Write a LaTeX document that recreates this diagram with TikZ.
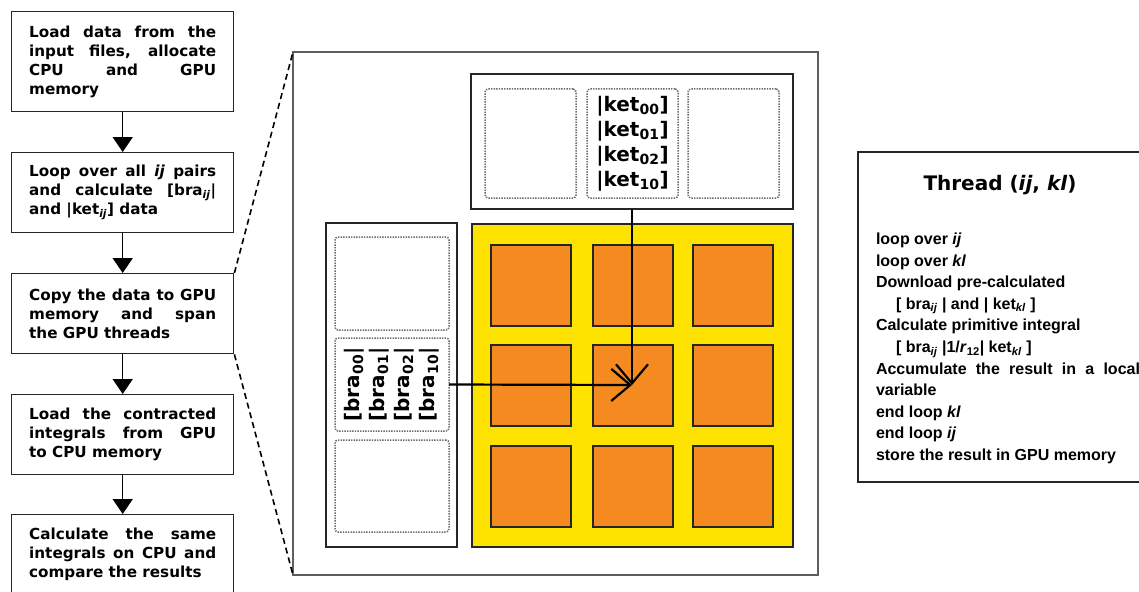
\documentclass[tikz,border=0pt]{standalone}
\usepackage{fontspec}
\setmainfont{DejaVu Sans}
\newfontfamily\arialfont{Liberation Sans}
\usetikzlibrary{arrows.meta}
\hbadness=10000
\definecolor{gpuyellow}{HTML}{FFE300}
\definecolor{gpuorange}{HTML}{F58B20}
\definecolor{darkedge}{HTML}{262626}
\definecolor{paneledge}{HTML}{5E5E5E}
\definecolor{dotgray}{HTML}{6A6A6A}
\tikzset{
  flowbox/.style={draw=darkedge, line width=1.4pt, anchor=north west, text width=187pt, inner xsep=17.5pt, inner ysep=0pt, align=justify, font=\bfseries\fontsize{15.2}{19}\selectfont},
  flowarrow/.style={draw=black, line width=1.5pt, -{Triangle[length=15pt,width=20pt]}},
  plainbox/.style={anchor=north west, inner sep=0pt, outer sep=0pt},
  dotbox/.style={plainbox, draw=dotgray, line width=1.5pt, dash pattern=on 1.4pt off 1.2pt, rounded corners=3pt},
  cell/.style={plainbox, draw=darkedge, line width=1.6pt, fill=gpuorange, minimum width=80pt, minimum height=81pt},
  zoomline/.style={line width=1.6pt, dash pattern=on 6pt off 4pt},
  dataarrow/.style={line width=2.2pt, -{Straight Barb[length=19pt,width=32pt,line width=2.2pt]}},
  lbl/.style={font=\bfseries\fontsize{20}{25}\selectfont, align=center, inner sep=0pt},
}
\begin{document}
\begin{tikzpicture}[x=1pt,y=-1pt]
\useasboundingbox (0,0) rectangle (1139,591);
\fill[white] (0,0) rectangle (1139,591);

% flow chart
\node[flowbox, minimum height=100pt] (b1) at (11,11)
  {Load data from the\linebreak input files, allocate\linebreak CPU and GPU\linebreak memory};
\node[flowbox, minimum height=80pt] (b2) at (11,152)
  {Loop over all \textit{ij} pairs\linebreak and calculate {[}bra\textsubscript{\textit{ij}}|\linebreak and |ket\textsubscript{\textit{ij}}] data};
\node[flowbox, minimum height=80pt] (b3) at (11,273)
  {Copy the data to GPU\linebreak memory and span\linebreak the GPU threads};
\node[flowbox, minimum height=80pt] (b4) at (11,394)
  {Load the contracted\linebreak integrals from GPU\linebreak to CPU memory};
\node[flowbox, minimum height=80pt] (b5) at (11,514)
  {Calculate the same\linebreak integrals on CPU and\linebreak compare the results};
\draw[flowarrow] (b1.south) -- (b2.north);
\draw[flowarrow] (b2.south) -- (b3.north);
\draw[flowarrow] (b3.south) -- (b4.north);
\draw[flowarrow] (b4.south) -- (b5.north);

% zoom panel
\node[plainbox, draw=paneledge, line width=1.6pt, minimum width=525pt, minimum height=523pt] (panel) at (293,52) {};
\draw[zoomline] (b3.north east) -- (panel.north west);
\draw[zoomline] (b3.south east) -- (panel.south west);

% ket memory
\node[plainbox, draw=darkedge, line width=2.2pt, minimum width=322pt, minimum height=135pt] (ketbox) at (471,74) {};
\node[dotbox, minimum width=91pt, minimum height=109pt] (kd1) at (485,89) {};
\node[dotbox, minimum width=91pt, minimum height=109pt] (kd2) at (587,89) {};
\node[dotbox, minimum width=91pt, minimum height=109pt] (kd3) at (688,89) {};
\node[lbl] (ketlbl) at (kd2.center) {|ket\textsubscript{00}]\\|ket\textsubscript{01}]\\|ket\textsubscript{02}]\\|ket\textsubscript{10}]};

% bra memory
\node[plainbox, draw=darkedge, line width=1.8pt, minimum width=131pt, minimum height=324pt] (brabox) at (326,223) {};
\node[dotbox, minimum width=114pt, minimum height=93pt] (bd1) at (335,237) {};
\node[dotbox, minimum width=114pt, minimum height=93pt] (bd2) at (335,338) {};
\node[dotbox, minimum width=114pt, minimum height=92pt] (bd3) at (335,440) {};
\node[lbl, rotate=90] (bralbl) at (bd2.center) {{[}bra\textsubscript{00}|\\{[}bra\textsubscript{01}|\\{[}bra\textsubscript{02}|\\{[}bra\textsubscript{10}|};

% thread grid
\node[plainbox, draw=darkedge, line width=1.6pt, fill=gpuyellow, minimum width=321pt, minimum height=323pt] (grid) at (472,224) {};
\node[cell] (c11) at (491,245) {};
\node[cell] (c12) at (593,245) {};
\node[cell] (c13) at (693,245) {};
\node[cell] (c21) at (491,345) {};
\node[cell] (c22) at (593,345) {};
\node[cell] (c23) at (693,345) {};
\node[cell] (c31) at (491,446) {};
\node[cell] (c32) at (593,446) {};
\node[cell] (c33) at (693,446) {};

\coordinate (tip) at (632,385);
\draw[dataarrow] (ketbox.south) -- (tip);
\draw[dataarrow] (bd2.east) -- (tip);

% thread description
\node[plainbox, draw=darkedge, line width=1.4pt, minimum width=320pt, minimum height=330pt] (thread) at (858,152) {};
\node[font=\bfseries\fontsize{20}{24}\selectfont] (ttitle) at (1000,185) {Thread (\textit{ij}, \textit{kl})};
\node[plainbox, text width=264pt, align=justify, font=\arialfont\bfseries\fontsize{16}{21.6}\selectfont] (tbody) at (876,233)
{loop over \textit{ij}\newline
loop over \textit{kl}\newline
Download pre-calculated\newline
\hspace*{20pt}[ bra\textsubscript{\textit{ij}} | and | ket\textsubscript{\textit{kl}} ]\newline
Calculate primitive integral\newline
\hspace*{20pt}[ bra\textsubscript{\textit{ij}} |1/\textit{r}\textsubscript{12}| ket\textsubscript{\textit{kl}} ]\newline
Accumulate the result in a local\linebreak
variable\newline
end loop \textit{kl}\newline
end loop \textit{ij}\newline
store the result in GPU memory};
\end{tikzpicture}
\end{document}
